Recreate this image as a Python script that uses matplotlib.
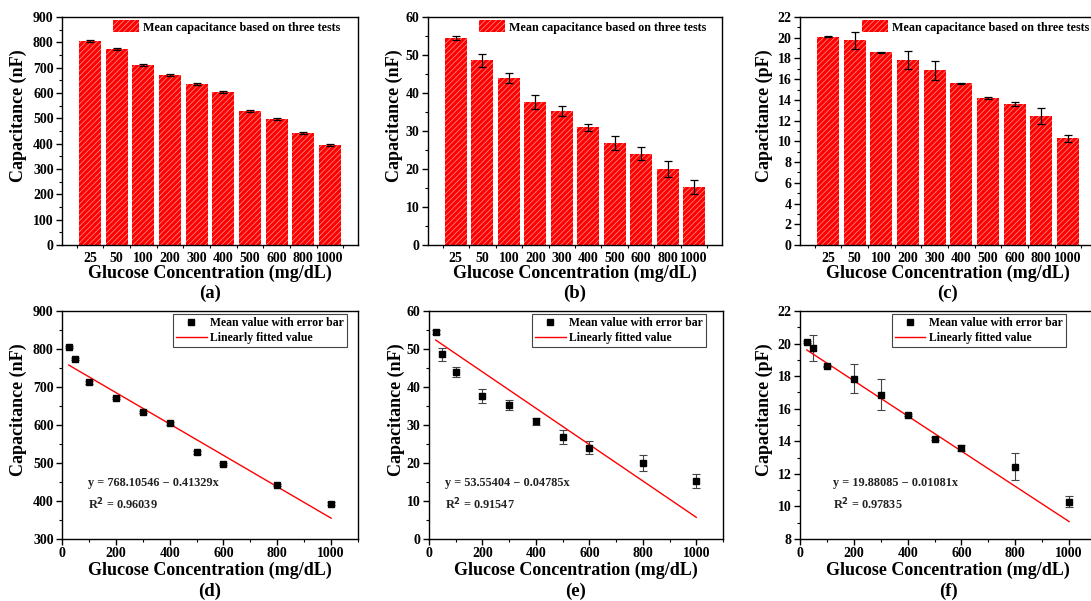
import matplotlib
matplotlib.use("Agg")
import matplotlib.pyplot as plt
from matplotlib.ticker import AutoMinorLocator, MultipleLocator, FixedLocator
import numpy as np

plt.rcParams['font.family'] = ['Liberation Serif', 'DejaVu Serif']
plt.rcParams['font.weight'] = 'bold'
plt.rcParams['axes.labelweight'] = 'bold'
plt.rcParams['hatch.linewidth'] = 0.5
plt.rcParams['mathtext.fontset'] = 'custom'
plt.rcParams['mathtext.rm'] = 'Liberation Serif:bold'
plt.rcParams['mathtext.it'] = 'Liberation Serif:bold'

conc_labels = ["25", "50", "100", "200", "300", "400", "500", "600", "800", "1000"]
conc = [25, 50, 100, 200, 300, 400, 500, 600, 800, 1000]

cap_a = [805, 773, 712, 672, 635, 605, 528, 497, 442, 393]
err_a = [3, 3, 4, 3, 3, 4, 4, 3, 3, 4]
cap_b = [54.5, 48.6, 44.0, 37.7, 35.2, 31.0, 26.8, 24.0, 20.0, 15.2]
err_b = [0.5, 1.7, 1.3, 1.8, 1.3, 0.9, 1.9, 1.7, 2.0, 1.9]
cap_c = [20.1, 19.75, 18.6, 17.85, 16.85, 15.6, 14.15, 13.6, 12.45, 10.3]
err_c = [0.05, 0.8, 0.05, 0.9, 0.95, 0.05, 0.1, 0.2, 0.8, 0.35]

fit_a = (768.10546, -0.41329, 0.96039)
fit_b = (53.55404, -0.04785, 0.91547)
fit_c = (19.88085, -0.01081, 0.97835)

units = ["nF", "nF", "pF"]
ylims = [(0, 900), (0, 60), (0, 22)]
ysteps = [100, 10, 2]
ylims2 = [(300, 900), (0, 60), (8, 22)]
ysteps2 = [100, 10, 2]
panel_top = ["(a)", "(b)", "(c)"]
panel_bot = ["(d)", "(e)", "(f)"]

W, H = 1091, 601
fig = plt.figure(figsize=(W / 100, H / 100), dpi=100)

def fx(px):
    return px / W

def fy(py):
    return 1 - py / H

lefts_top = [62, 428, 800]
lefts_bot = [62, 429, 800]
widths = [296, 294, 296]
bar_leg_x = [0.172, 0.173, 0.208]
sc_leg_x = [0.375, 0.35, 0.31]
eq_x = [0.088, 0.054, 0.11]
ylab_x_top = [-0.118, -0.085, -0.091]
ylab_x_bot = [-0.118, -0.082, -0.091]
tick_fs = 10
label_fs = 13
leg_fs = 8.7

def style(ax):
    for s in ax.spines.values():
        s.set_linewidth(1.0)
    ax.tick_params(which='major', direction='out', length=4, width=1.0,
                   labelsize=tick_fs, pad=2)
    ax.tick_params(which='minor', direction='out', length=2, width=0.8)
    for lab in ax.get_xticklabels() + ax.get_yticklabels():
        lab.set_fontweight('bold')

caps = [cap_a, cap_b, cap_c]
errs = [err_a, err_b, err_c]
fits = [fit_a, fit_b, fit_c]

for i in range(3):
    ax = fig.add_axes([fx(lefts_top[i]), fy(245), fx(widths[i]), fy(17) - fy(245)])
    xpos = np.arange(len(conc_labels))
    ax.bar(xpos, caps[i], width=0.82, color='#ff0000', edgecolor='#ff9a9a',
           linewidth=0, hatch='//////', label='Mean capacitance based on three tests')
    ax.errorbar(xpos, caps[i], yerr=errs[i], fmt='none', ecolor='black',
                elinewidth=0.9, capsize=3, capthick=0.9)
    ax.set_xlim(-1.05, 10.05)
    ax.set_ylim(*ylims[i])
    ax.yaxis.set_major_locator(MultipleLocator(ysteps[i]))
    ax.yaxis.set_minor_locator(AutoMinorLocator(2))
    ax.set_xticks(xpos)
    ax.set_xticklabels(conc_labels)
    ax.xaxis.set_minor_locator(FixedLocator(np.arange(-0.5, 10, 1.0)))
    ax.set_ylabel(f"Capacitance ({units[i]})", fontsize=label_fs)
    ax.yaxis.set_label_coords(ylab_x_top[i], 0.565)
    ax.set_xlabel("Glucose Concentration (mg/dL)", fontsize=label_fs, labelpad=0)
    style(ax)
    ax.tick_params(axis='x', which='major', length=0, pad=5)
    ax.legend(loc='upper left', bbox_to_anchor=(bar_leg_x[i], 0.985), frameon=False,
              handlelength=2.2, handleheight=1.15, borderaxespad=0, borderpad=0,
              handletextpad=0.3, prop={'weight': 'bold', 'size': leg_fs})
    xc = lefts_top[i] + widths[i] / 2
    fig.text(fx(xc), fy(293), panel_top[i], ha='center', va='center',
             fontsize=label_fs + 0.5, fontweight='bold')

for i in range(3):
    ax = fig.add_axes([fx(lefts_bot[i]), fy(539), fx(widths[i]), fy(311) - fy(539)])
    a, b, r2 = fits[i]
    h1 = ax.errorbar(conc, caps[i], yerr=errs[i], fmt='s', color='black', ms=4.5,
                     ecolor='#444444', elinewidth=0.8, capsize=3, capthick=0.8,
                     label='Mean value with error bar')
    xs = np.array([conc[0], conc[-1]])
    h2, = ax.plot(xs, a + b * xs, color='red', lw=1.0, label='Linearly fitted value')
    ax.set_xlim(0, 1100)
    ax.set_ylim(*ylims2[i])
    ax.xaxis.set_major_locator(MultipleLocator(200))
    ax.xaxis.set_minor_locator(AutoMinorLocator(2))
    ax.yaxis.set_major_locator(MultipleLocator(ysteps2[i]))
    ax.yaxis.set_minor_locator(AutoMinorLocator(2))
    ax.set_ylabel(f"Capacitance ({units[i]})", fontsize=label_fs)
    ax.yaxis.set_label_coords(ylab_x_bot[i], 0.565)
    ax.set_xlabel("Glucose Concentration (mg/dL)", fontsize=label_fs, labelpad=1)
    style(ax)
    leg = ax.legend([h1[0], h2], ['Mean value with error bar', 'Linearly fitted value'],
                    loc='upper left', bbox_to_anchor=(sc_leg_x[i], 0.985),
                    frameon=True, fancybox=False,
                    edgecolor='#444444', framealpha=1, handlelength=2.6,
                    borderaxespad=0, borderpad=0.25, labelspacing=0.25,
                    handletextpad=0.3, prop={'weight': 'bold', 'size': 8.5})
    leg.get_frame().set_linewidth(0.8)
    ax.text(eq_x[i], 0.245, f"y = {a:.5f} \u2212 {abs(b):.5f}x", transform=ax.transAxes,
            fontsize=8.8, fontweight='bold', color='#222222', va='center')
    ax.text(eq_x[i], 0.158, f"R$^{{\\mathbf{{2}}}}$ = {r2:.5f}", transform=ax.transAxes,
            fontsize=8.8, fontweight='bold', color='#222222', va='center')
    xc = lefts_bot[i] + widths[i] / 2
    fig.text(fx(xc), fy(591), panel_bot[i], ha='center', va='center',
             fontsize=label_fs + 0.5, fontweight='bold')

fig.savefig("out.png", dpi=100)
